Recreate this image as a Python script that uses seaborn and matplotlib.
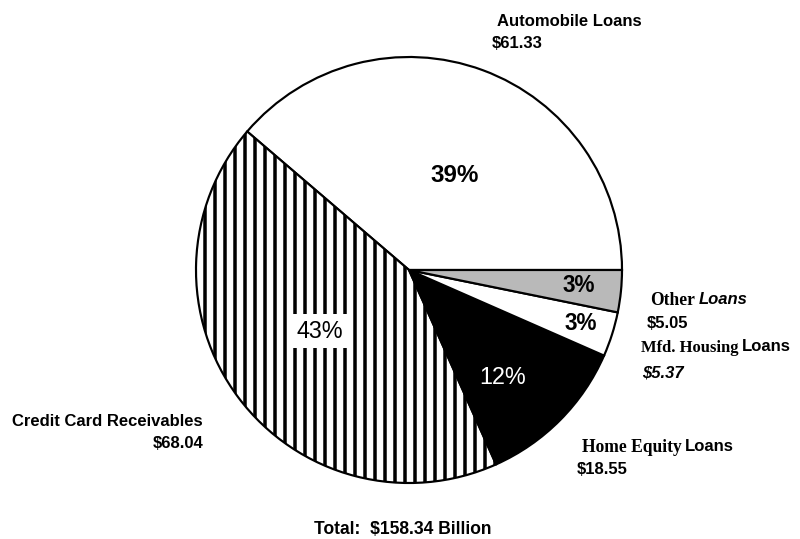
import matplotlib
matplotlib.use("Agg")
import matplotlib.pyplot as plt
import seaborn as sns

sns.set_theme(style="white")
plt.rcParams["font.family"] = ["Liberation Sans", "DejaVu Sans"]
plt.rcParams["hatch.linewidth"] = 2.1
plt.rcParams["hatch.color"] = "black"

# ---- data ----
categories = ["Automobile Loans", "Credit Card Receivables", "Home Equity Loans",
              "Mfd. Housing Loans", "Other Loans"]
values = [61.33, 68.04, 18.55, 5.37, 5.05]
pct_labels = ["39%", "43%", "12%", "3%", "3%"]
amount_labels = ["$61.33", "$68.04", "$18.55", "$5.37", "$5.05"]
total_label = "Total:  $158.34 Billion"

W, H = 800, 539
DPI = 120
fig = plt.figure(figsize=(W / DPI, H / DPI), dpi=DPI)
ax = fig.add_axes([0, 0, 1, 1])


def Y(py):
    return H - py


colors = ["white", "white", "black", "white", "#b9b9b9"]
wedges, _ = ax.pie(values, colors=colors, startangle=0, counterclock=True,
                   center=(409, Y(270)), radius=213,
                   wedgeprops=dict(edgecolor="black", linewidth=1.3))
wedges[1].set_hatch("||")
ax.set_xlim(0, W)
ax.set_ylim(0, H)
ax.set_aspect("auto")
ax.axis("off")

# ---- percentage labels ----
pct_pos = [(455, 175), (320, 331), (503, 378), (579, 285), (581, 323)]
pct_style = [
    dict(color="black", fontweight="bold", fontsize=14.5),
    dict(color="black", fontweight="normal", fontsize=14,
         bbox=dict(boxstyle="square,pad=0.25", fc="white", ec="none")),
    dict(color="white", fontweight="normal", fontsize=14),
    dict(color="black", fontweight="bold", fontsize=13.5),
    dict(color="black", fontweight="bold", fontsize=13.5),
]
for lab, (px, py), st in zip(pct_labels, pct_pos, pct_style):
    ax.text(px, Y(py), lab, ha="center", va="center", **st)

# ---- category labels ----
LFS = 10
sans_bold = dict(fontsize=LFS, fontweight="bold", color="black")
serif_bold = dict(fontsize=LFS + 0.5, fontweight="bold", color="black",
                  family=["Liberation Serif", "DejaVu Serif"])

# Automobile
ax.text(497, Y(21), categories[0], ha="left", va="center", **sans_bold)
ax.text(492, Y(44), amount_labels[0], ha="left", va="center", **sans_bold)

# Credit card
ax.text(203, Y(422), categories[1], ha="right", va="center", **sans_bold)
ax.text(203, Y(444), amount_labels[1], ha="right", va="center", **sans_bold)


def mixed(px, py, text, last_style, serif_size=None):
    first, last = text.rsplit(" ", 1)
    st = dict(serif_bold)
    if serif_size is not None:
        st["fontsize"] = serif_size
    t1 = ax.text(px, Y(py), first, ha="left", va="baseline", **st)
    ax.annotate(last, xy=(1, 0), xycoords=t1, xytext=(2, 1),
                textcoords="offset points", ha="left", va="bottom", **last_style)


# Home equity
mixed(582, 452, categories[2], sans_bold)
ax.text(577, Y(469), amount_labels[2], ha="left", va="center", **sans_bold)

# Mfd housing
mixed(641, 352, categories[3], sans_bold, serif_size=10)
ax.text(642, Y(373), amount_labels[3], ha="left", va="center",
        fontstyle="italic", **sans_bold)

# Other
mixed(650, 305, categories[4], dict(sans_bold, fontstyle="italic"))
ax.text(647, Y(324), amount_labels[4], ha="left", va="center", **sans_bold)

# Total
ax.text(403, Y(529), total_label, ha="center", va="center",
        fontsize=10.5, fontweight="bold", color="black")

fig.savefig("out.png", dpi=DPI)
